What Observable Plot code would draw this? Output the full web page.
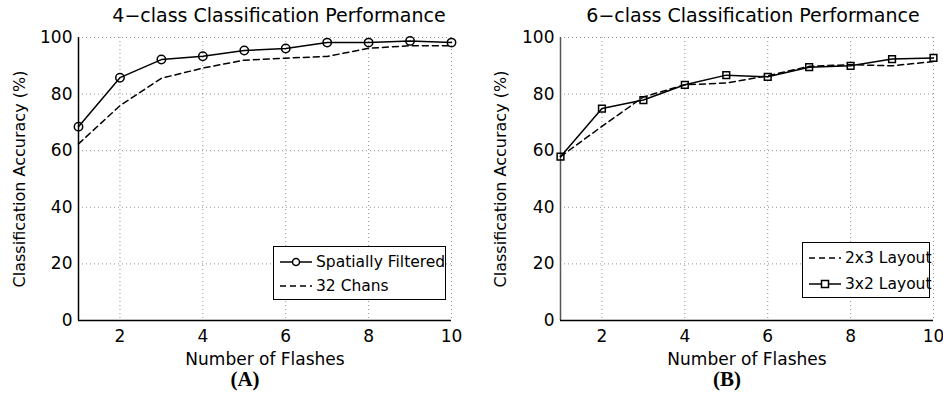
<!DOCTYPE html>
<html>
<head>
<meta charset="utf-8">
<script src="https://cdn.jsdelivr.net/npm/d3@7"></script>
<script src="https://cdn.jsdelivr.net/npm/@observablehq/plot@0.6"></script>
<style>
  html, body { margin: 0; padding: 0; background: #fff; }
  #wrap { position: relative; width: 943px; height: 400px; background: #fff; overflow: hidden; font-family: "DejaVu Sans", sans-serif; color: #000; }
  .panel { position: absolute; top: 0; }
  .title { position: absolute; top: 4px; font-size: 19px; white-space: nowrap; transform: translateX(-50%); }
  .caption { position: absolute; top: 367px; font-family: "Liberation Serif", "DejaVu Serif", serif; font-weight: bold; font-size: 21px; transform: translateX(-50%); }
  .legend { position: absolute; background: #fff; border: 1.5px solid #000; box-sizing: border-box; font-size: 15.5px; }
  .legend .row { position: absolute; left: 0; height: 24px; display: flex; align-items: center; white-space: nowrap; }
  .legend svg { display: block; margin-right: 3px; }
</style>
</head>
<body>
<div id="wrap"></div>
<script>
// ---- data ----
const flashes = [1, 2, 3, 4, 5, 6, 7, 8, 9, 10];
const spatiallyFiltered = [68.5, 85.8, 92.2, 93.4, 95.4, 96.1, 98.2, 98.2, 98.8, 98.2];
const chans32 = [62.4, 75.9, 85.6, 89.2, 92.0, 92.7, 93.3, 96.2, 97.1, 97.1];
const layout2x3 = [57.9, 68.6, 79.0, 83.3, 83.9, 86.5, 89.8, 90.4, 90.0, 91.5];
const layout3x2 = [57.9, 74.9, 77.9, 83.3, 86.7, 86.1, 89.5, 90.0, 92.4, 92.8];
const xTicks = [2, 4, 6, 8, 10];
const yTicks = [0, 20, 40, 60, 80, 100];
const titles = ["4\u2212class Classification Performance", "6\u2212class Classification Performance"];
const captions = ["(A)", "(B)"];
const xLabel = "Number of Flashes";
const yLabel = "Classification Accuracy (%)";

const rows = (ys) => flashes.map((x, i) => ({x, y: ys[i]}));

function panel({solid, dashed, symbol, width, ml, mr, axisColor, yOffset}) {
  const svg = Plot.plot({
    width, height: 370,
    marginLeft: ml, marginRight: mr, marginTop: 37, marginBottom: 50,
    style: {fontFamily: "DejaVu Sans, sans-serif", fontSize: "17px", color: "#000", background: "transparent", overflow: "visible"},
    x: {domain: [1, 10]},
    y: {domain: [0, 100]},
    marks: [
      Plot.gridX(xTicks, {stroke: "#777", strokeOpacity: 1, strokeDasharray: "1,3", strokeWidth: 0.8}),
      Plot.gridY(yTicks, {stroke: "#777", strokeOpacity: 1, strokeDasharray: "1,3", strokeWidth: 0.8}),
      Plot.axisX(xTicks, {tickSize: 0, tickPadding: 9, label: xLabel, labelAnchor: "center", labelOffset: 44, labelArrow: "none", fontSize: 17}),
      Plot.axisY(yTicks, {tickSize: 0, tickPadding: 6, label: null, fontSize: 17}),
      Plot.axisY({tickSize: 0, ticks: [], label: yLabel, labelAnchor: "center", labelOffset: yOffset, labelArrow: "none", fontSize: 16}),
      Plot.ruleX([1], {stroke: axisColor, strokeWidth: 1.5}),
      Plot.ruleY([0], {stroke: "#000", strokeWidth: 1.5}),
      Plot.line(rows(dashed), {x: "x", y: "y", stroke: "#000", strokeWidth: 1.5, strokeDasharray: "6,4"}),
      Plot.line(rows(solid), {x: "x", y: "y", stroke: "#000", strokeWidth: 1.5}),
      Plot.dot(rows(solid), {x: "x", y: "y", stroke: "#000", strokeWidth: 1.5, fill: "none", r: symbol === "circle" ? 4.2 : 3.8, symbol})
    ]
  });
  return svg;
}

const wrap = document.getElementById("wrap");

function place(node, left) {
  node.classList.add("panel");
  node.style.left = left + "px";
  wrap.appendChild(node);
}

place(panel({solid: spatiallyFiltered, dashed: chans32, symbol: "circle", width: 471, ml: 78, mr: 20, axisColor: "#000", yOffset: 65}), 0);
place(panel({solid: layout3x2, dashed: layout2x3, symbol: "square", width: 472, ml: 89, mr: 10, axisColor: "#555", yOffset: 66}), 471);

function addDiv(cls, text, left) {
  const d = document.createElement("div");
  d.className = cls;
  d.textContent = text;
  d.style.left = left + "px";
  wrap.appendChild(d);
  return d;
}
addDiv("title", titles[0], 279);
addDiv("title", titles[1], 753);
addDiv("caption", captions[0], 245);
addDiv("caption", captions[1], 727);

function sample(kind) {
  const ns = "http://www.w3.org/2000/svg";
  const s = document.createElementNS(ns, "svg");
  s.setAttribute("width", 34); s.setAttribute("height", 12);
  const l = document.createElementNS(ns, "line");
  l.setAttribute("x1", 1); l.setAttribute("x2", 33); l.setAttribute("y1", 6); l.setAttribute("y2", 6);
  l.setAttribute("stroke", "#000"); l.setAttribute("stroke-width", 1.5);
  if (kind === "dashed") l.setAttribute("stroke-dasharray", "6,4");
  s.appendChild(l);
  if (kind === "circle") {
    const c = document.createElementNS(ns, "circle");
    c.setAttribute("cx", 17); c.setAttribute("cy", 6); c.setAttribute("r", 3.5);
    c.setAttribute("fill", "#fff"); c.setAttribute("stroke", "#000"); c.setAttribute("stroke-width", 1.5);
    s.appendChild(c);
  } else if (kind === "square") {
    const r = document.createElementNS(ns, "rect");
    r.setAttribute("x", 13.5); r.setAttribute("y", 2.5); r.setAttribute("width", 7); r.setAttribute("height", 7);
    r.setAttribute("fill", "#fff"); r.setAttribute("stroke", "#000"); r.setAttribute("stroke-width", 1.5);
    s.appendChild(r);
  }
  return s;
}

function legend(left, top, w, h, items) {
  const box = document.createElement("div");
  box.className = "legend";
  Object.assign(box.style, {left: left + "px", top: top + "px", width: w + "px", height: h + "px"});
  items.forEach((it) => {
    const row = document.createElement("div");
    row.className = "row";
    row.style.top = it.top + "px";
    row.style.left = "5px";
    row.appendChild(sample(it.kind));
    const t = document.createElement("span");
    t.textContent = it.label;
    row.appendChild(t);
    box.appendChild(row);
  });
  wrap.appendChild(box);
}
legend(273, 246, 173, 54, [
  {kind: "circle", label: "Spatially Filtered", top: 3},
  {kind: "dashed", label: "32 Chans", top: 27}
]);
legend(802, 242, 128, 56, [
  {kind: "dashed", label: "2x3 Layout", top: 3},
  {kind: "square", label: "3x2 Layout", top: 29}
]);
</script>
</body>
</html>
